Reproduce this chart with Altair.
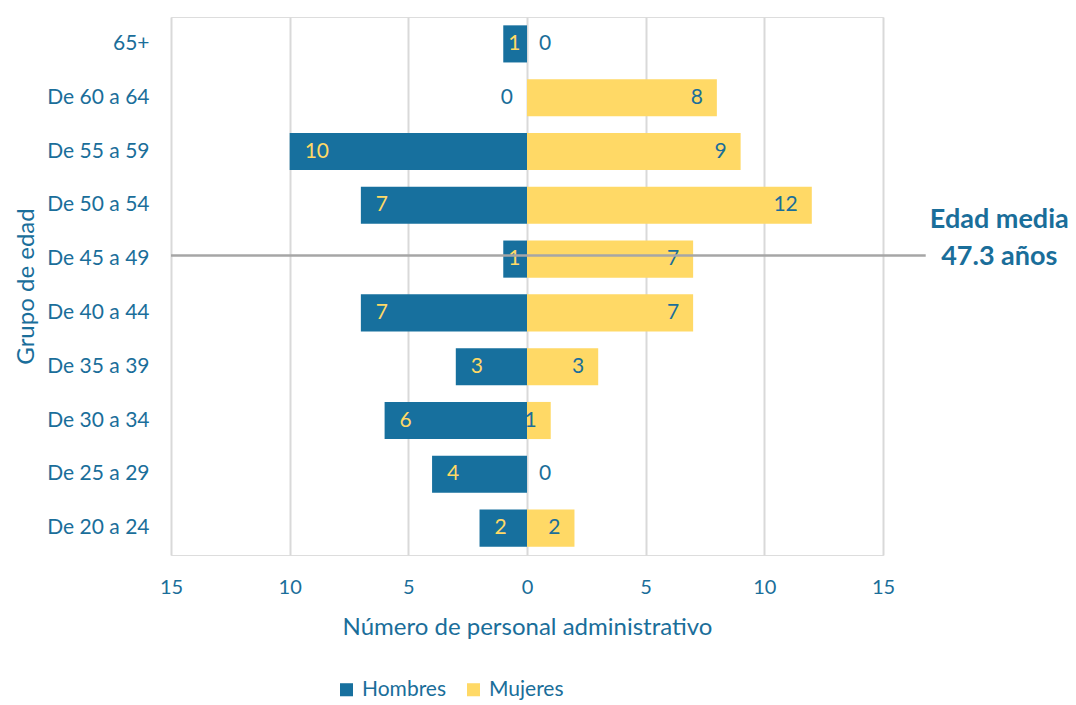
import altair as alt
import pandas as pd

grupos = ["65+", "De 60 a 64", "De 55 a 59", "De 50 a 54", "De 45 a 49",
          "De 40 a 44", "De 35 a 39", "De 30 a 34", "De 25 a 29", "De 20 a 24"]
hombres = [1, 0, 10, 7, 1, 7, 3, 6, 4, 2]
mujeres = [0, 8, 9, 12, 7, 7, 3, 1, 0, 2]
ticks = [-15, -10, -5, 0, 5, 10, 15]
edad_media = 47.3
grupo_media = "De 45 a 49"
linea_media = [-15, 16.8]
pos_texto_media = 19.9

BLUE = "#17709e"
YELLOW = "#ffd966"
TXT = "#1a6e9a"
FONT = "Lato"

rows = []
for g, h, m in zip(grupos, hombres, mujeres):
    rows.append({"grupo": g, "sexo": "Hombres", "valor": h, "x": -h})
    rows.append({"grupo": g, "sexo": "Mujeres", "valor": m, "x": m})
df = pd.DataFrame(rows)

y_enc = alt.Y(
    "grupo:N", sort=grupos,
    scale=alt.Scale(paddingInner=0.31, paddingOuter=0.155),
    axis=alt.Axis(title="Grupo de edad", ticks=False, domain=False, labelPadding=22,
                  labelFontSize=21, labelColor=TXT, labelFont=FONT,
                  titleFontSize=24, titleFontWeight="normal", titleColor=TXT, titleFont=FONT,
                  titlePadding=8),
)
x_enc = alt.X(
    "x:Q",
    scale=alt.Scale(domain=[-15, 15], nice=False),
    axis=alt.Axis(values=ticks, labelExpr="abs(datum.value)", title="Número de personal administrativo",
                  ticks=False, domain=False, grid=True, gridColor="#d9d9d9", gridWidth=2,
                  labelFlush=False, labelOverlap=False,
                  labelFontSize=20, labelColor=TXT, labelFont=FONT, labelPadding=22,
                  titleFontSize=24, titleFontWeight="normal", titleColor=TXT, titleFont=FONT,
                  titlePadding=18),
)

base = alt.Chart(df)

bars = base.mark_bar().encode(
    x=x_enc,
    y=y_enc,
    color=alt.Color("sexo:N",
                    scale=alt.Scale(domain=["Hombres", "Mujeres"], range=[BLUE, YELLOW]),
                    legend=alt.Legend(title=None, orient="none", legendX=165, legendY=662,
                                      direction="horizontal", symbolType="square", symbolSize=170,
                                      symbolStrokeWidth=0, labelFontSize=21, labelColor=TXT,
                                      labelFont=FONT, columnPadding=16, labelOffset=5)),
)

txt_common = dict(fontSize=21, font=FONT, baseline="middle")
ysort = alt.Y("grupo:N", sort=grupos)

h_lab = base.transform_filter("datum.sexo == 'Hombres' && datum.valor > 0").transform_calculate(
    xl="datum.valor > 1 ? datum.x : datum.x - 0.42"
).mark_text(align="left", dx=15, color=YELLOW, **txt_common).encode(
    x="xl:Q", y=ysort, text="valor:Q")

m_lab = base.transform_filter("datum.sexo == 'Mujeres' && datum.valor > 0").mark_text(
    align="right", dx=-14, color=TXT, **txt_common
).encode(x="x:Q", y=ysort, text="valor:Q")

h_zero = base.transform_filter("datum.sexo == 'Hombres' && datum.valor == 0").mark_text(
    align="right", dx=-14, color=TXT, **txt_common
).encode(x="x:Q", y=ysort, text="valor:Q")

m_zero = base.transform_filter("datum.sexo == 'Mujeres' && datum.valor == 0").mark_text(
    align="left", dx=12, color=TXT, **txt_common
).encode(x="x:Q", y=ysort, text="valor:Q")

df_media = pd.DataFrame([{"grupo": grupo_media, "x1": linea_media[0], "x2": linea_media[1],
                          "xt": pos_texto_media,
                          "t1": "Edad media", "t2": f"{edad_media} años"}])
media = alt.Chart(df_media)
rule = media.mark_rule(color="#a6a6a6", strokeWidth=2.5).encode(
    x="x1:Q", x2="x2:Q", y=alt.Y("grupo:N", sort=grupos, bandPosition=0.4)
)
t1 = media.mark_text(fontSize=27, fontWeight="bold", font=FONT, color=TXT, align="center",
                     baseline="middle", dy=-39).encode(
    x="xt:Q", y=ysort, text="t1:N")
t2 = media.mark_text(fontSize=27, fontWeight="bold", font=FONT, color=TXT, align="center",
                     baseline="middle", dy=-2).encode(
    x="xt:Q", y=ysort, text="t2:N")

chart = alt.layer(bars, h_lab, m_lab, h_zero, m_zero, rule, t1, t2).properties(
    width=712, height=538,
    autosize=alt.AutoSizeParams(type="none"),
    padding={"left": 163, "top": 9, "right": 185, "bottom": 150},
).configure_view(stroke=None).configure(background="white")

chart.save("out.html", embed_options={"renderer": "svg", "actions": False})
